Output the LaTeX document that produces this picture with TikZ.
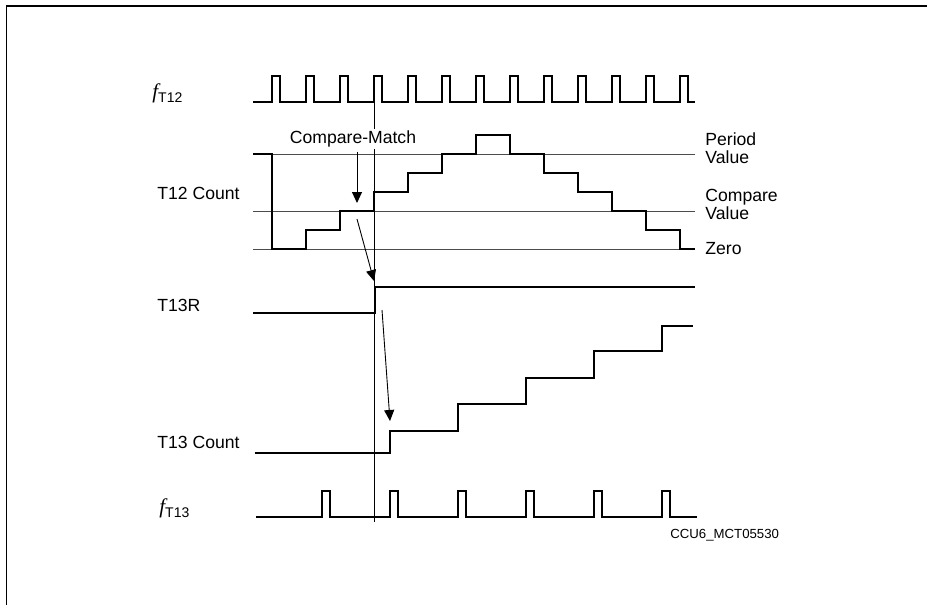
\documentclass[tikz,border=0pt]{standalone}
\usepackage{fontspec}
\setmainfont{Liberation Sans}
\newfontfamily\serifface{Liberation Serif}
\usetikzlibrary{arrows.meta, positioning}

\newcommand{\freqlabel}[1]{{\fontsize{10.5}{10}\selectfont\serifface\itshape f}\raisebox{-0.45ex}{\fontsize{7}{7}\selectfont #1}}

\begin{document}
\begin{tikzpicture}[x=0.5pt, y=-0.5pt,
  every node/.style={font=\fontsize{8.8}{9}\selectfont, inner sep=0pt},
  wave/.style={line width=1.3pt, line join=miter},
  level/.style={line width=0.45pt, draw=black!70},
  marker/.style={line width=0.45pt},
  arrow/.style={-{Triangle[length=5.5pt, width=5pt]}, line width=0.45pt},
  sig/.style={anchor=west},
  lvl/.style={anchor=west, align=left}
]

\useasboundingbox (0,0) rectangle (927,605);
\draw[line width=0.6pt] (6.5,605) -- (6.5,6) -- (927,6);

% signal names
\node[sig] (ft12) at (152,93) {\freqlabel{T12}};
\node[sig] (t12c) at (157,193) {T12 Count};
\node[sig] (t13r) at (157,305) {T13R};
\node[sig] (t13c) at (157,442) {T13 Count};
\node[sig] (ft13) at (159,508) {\freqlabel{T13}};

% level names
\node[lvl] (period) at (705,148) {Period\\Value};
\node[lvl] (compare) at (705,204) {Compare\\Value};
\node[lvl] (zero) at (705,249) {Zero};
\node[sig, font=\fontsize{6.6}{7}\selectfont] (figid) at (670,535) {CCU6\_MCT05530};

% reference levels of T12
\draw[level] (253,154) -- (695,154);
\draw[level] (253,211) -- (695,211);
\draw[level] (253,249) -- (695,249);

% T12 clock
\draw[wave] (253,102)
  \foreach \i in {0,...,12} {
    -- ({272+34*\i},102) -- ({272+34*\i},76) -- ({280+34*\i},76) -- ({280+34*\i},102)
  } -- (695,102);

% T12 counter
\draw[wave] (253,154) -| (272,249) -| (306,230) -| (340,211) -| (374,192)
  -| (408,173) -| (442,154) -| (476,135) -| (510,154) -| (544,173)
  -| (578,192) -| (612,211) -| (646,230) -| (680,249) -- (695,249);

% T13R
\draw[wave] (253,313) -| (375,287) -- (695,287);

% T13 counter
\draw[wave] (255,453) -| (390,431) -| (458,404) -| (526,378) -| (594,351)
  -| (662,326) -- (693,326);

% T13 clock
\draw[wave] (256,517)
  \foreach \i in {0,...,5} {
    -- ({322+68*\i},517) -- ({322+68*\i},491) -- ({330+68*\i},491) -- ({330+68*\i},517)
  } -- (697,517);

% compare match
\draw[marker] (374,90) -- (374,522);
\node[fill=white, inner sep=1pt] (cm) at (353,139) {Compare-Match};

\coordinate (cmtip) at (357,203);
\coordinate (srtail) at (357,219);
\coordinate (srtip) at (374,281);
\coordinate (cnttail) at (382,310);
\coordinate (cnttip) at (390,421);

\draw[arrow, shorten <=1pt] (cm.south -| cmtip) -- (cmtip);
\draw[arrow] (srtail) -- (srtip);
\draw[arrow] (cnttail) -- (cnttip);

\end{tikzpicture}
\end{document}
